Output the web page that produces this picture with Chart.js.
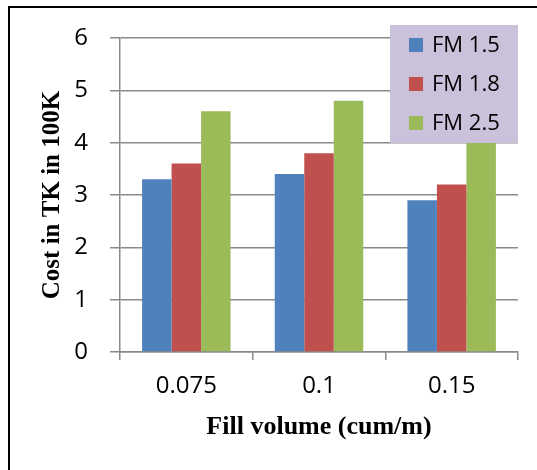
<!DOCTYPE html>
<html>
<head>
<meta charset="utf-8">
<script src="https://cdn.jsdelivr.net/npm/chart.js@4/dist/chart.umd.min.js"></script>
<style>
  html, body { margin: 0; padding: 0; background: #fff; }
  #wrap { width: 537px; height: 470px; }
</style>
</head>
<body>
<div id="wrap"><canvas id="c" width="537" height="470"></canvas></div>
<script>
// Fill volume categories and cost per fineness modulus (in 100K TK)
const categories = ['0.075', '0.1', '0.15'];
const seriesNames = ['FM 1.5', 'FM 1.8', 'FM 2.5'];
const fm15 = [3.3, 3.4, 2.9];
const fm18 = [3.6, 3.8, 3.2];
const fm25 = [4.6, 4.8, 4.4];
const yTicks = [0, 1, 2, 3, 4, 5, 6];

const colors = ['#4F81BD', '#C0504D', '#9BBB59'];
const gridColor = '#8a8a8a';
const tickFont = { family: '"Open Sans", sans-serif', size: 24 };
const titleFont = { family: '"Liberation Serif", "Times New Roman", serif', weight: 'bold' };

// Outer frame of the figure
const frame = {
  id: 'frame',
  beforeDraw(chart) {
    const ctx = chart.ctx;
    ctx.save();
    ctx.strokeStyle = '#000';
    ctx.lineWidth = 2;
    ctx.strokeRect(9, 7, 620, 620);
    ctx.restore();
  }
};

// Legend box drawn over the bars with a filled background
const boxLegend = {
  id: 'boxLegend',
  afterDatasetsDraw(chart, args, o) {
    const ctx = chart.ctx;
    ctx.save();
    ctx.fillStyle = o.background;
    ctx.fillRect(o.x, o.y, o.width, o.height);
    ctx.font = o.font;
    ctx.textBaseline = 'middle';
    ctx.textAlign = 'left';
    chart.data.datasets.forEach((ds, i) => {
      const cy = o.firstRow + i * o.rowGap;
      ctx.fillStyle = ds.backgroundColor;
      ctx.fillRect(o.boxX, cy - o.boxSize / 2, o.boxSize, o.boxSize);
      ctx.fillStyle = '#000';
      ctx.fillText(ds.label, o.textX, cy + 1);
    });
    ctx.restore();
  }
};

new Chart(document.getElementById('c'), {
  type: 'bar',
  data: {
    labels: categories,
    datasets: [
      { label: seriesNames[0], data: fm15, backgroundColor: colors[0] },
      { label: seriesNames[1], data: fm18, backgroundColor: colors[1] },
      { label: seriesNames[2], data: fm25, backgroundColor: colors[2] }
    ]
  },
  options: {
    responsive: false,
    devicePixelRatio: 1,
    animation: false,
    layout: { padding: { left: 0, top: 38, right: 19, bottom: 0 } },
    datasets: { bar: { barPercentage: 1, categoryPercentage: 0.667 } },
    plugins: {
      legend: { display: false },
      tooltip: { enabled: false },
      boxLegend: {
        x: 390, y: 25, width: 128, height: 118,
        background: '#CCC1DA',
        font: '22px "Open Sans", sans-serif',
        boxX: 409, boxSize: 14, textX: 432,
        firstRow: 45, rowGap: 39
      }
    },
    scales: {
      x: {
        offset: true,
        afterFit(scale) { scale.height = 118; },
        grid: { display: true, offset: true, drawOnChartArea: false, drawTicks: true, tickLength: 8, color: gridColor, lineWidth: 1.5 },
        border: { display: true, color: gridColor, width: 1.5 },
        ticks: { color: '#000', font: tickFont, padding: 12, maxRotation: 0 },
        title: { display: true, text: 'Fill volume (cum/m)', color: '#000', font: { ...titleFont, size: 26 }, padding: { top: 0, bottom: 27 } }
      },
      y: {
        min: 0,
        max: 6,
        afterFit(scale) { scale.width = 120; },
        afterBuildTicks(scale) { scale.ticks = yTicks.map(v => ({ value: v })); },
        grid: { color: gridColor, lineWidth: 1.5, drawTicks: true, tickLength: 10 },
        border: { display: true, color: gridColor, width: 1.5 },
        ticks: { color: '#000', font: tickFont, padding: 22 },
        title: { display: true, text: 'Cost in TK in 100K', color: '#000', font: { ...titleFont, size: 25 }, padding: { top: 38, bottom: 0 } }
      }
    }
  },
  plugins: [frame, boxLegend]
});
</script>
</body>
</html>
